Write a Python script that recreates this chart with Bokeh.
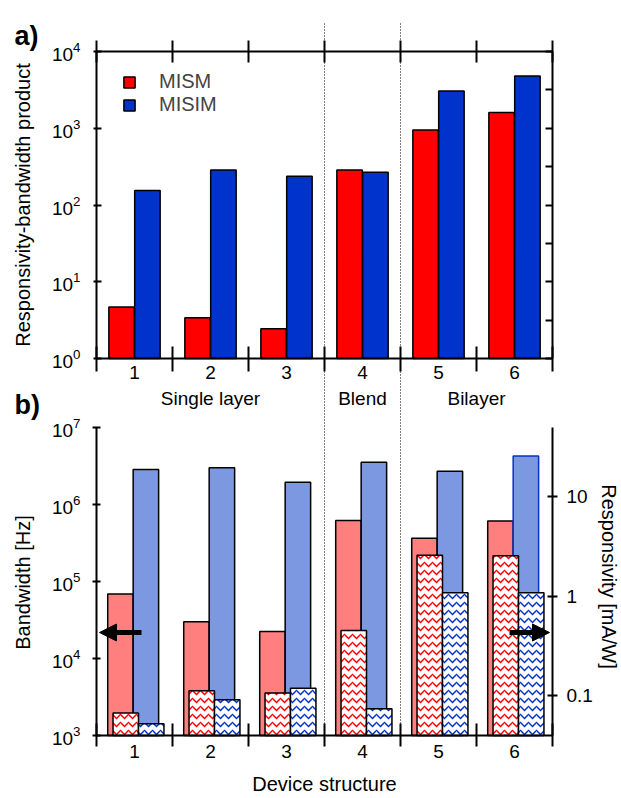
import math
from bokeh.plotting import figure
from bokeh.models import (Range1d, LogScale, LogAxis, LinearAxis, FixedTicker, Label,
                          Legend, LegendItem, Arrow, NormalHead, CustomJSTickFormatter,
                          ColumnDataSource)
from bokeh.embed import file_html
from bokeh.resources import INLINE

# ---------------- data ----------------
categories = ["1", "2", "3", "4", "5", "6"]
groups = ["Single layer", "Blend", "Bilayer"]
group_pos = [2.0, 4.0, 5.5]
group_dividers = [3.5, 4.5]

# a) responsivity-bandwidth product
rbw_mism = [4.7, 3.4, 2.45, 285, 950, 1600]
rbw_misim = [155, 285, 237, 268, 3050, 4800]
# b) bandwidth [Hz]
bw_mism = [6.9e4, 3.0e4, 2.25e4, 6.2e5, 3.65e5, 6.1e5]
bw_misim = [2.85e6, 3.0e6, 1.95e6, 3.55e6, 2.7e6, 4.25e6]
# b) responsivity [mA/W]
resp_mism = [0.066, 0.111, 0.105, 0.45, 2.57, 2.54]
resp_misim = [0.0515, 0.090, 0.1175, 0.073, 1.08, 1.08]

rbw_ticks = [1, 10, 100, 1000, 10000]
bw_ticks = [1e3, 1e4, 1e5, 1e6, 1e7]
resp_ticks = [0.1, 1, 10]

# ---------------- layout (page pixels -> data) ----------------
FONT = "Liberation Sans"
W, H = 619, 796
PX0, PY0 = 1, 1                      # figure origin on the page
XL, UNIT = 97, 76.0                  # page x of the left plot edge, px per category

def xd(px):
    return 0.5 + (px - XL) / UNIT

def logmap(v_ref, y_ref, ppd):
    return lambda py: 10 ** (math.log10(v_ref) + (y_ref - py) / ppd)

rbw_y = logmap(1, 359, (359 - 52) / 4.0)
bw_y = logmap(1e3, 736, (736 - 428) / 4.0)
resp_y = logmap(0.1, 695.7, (695.7 - 497.3) / 2.0)

TOP_PAGE, BOT_PAGE = PY0, PY0 + H
p = figure(width=W, height=H, x_range=Range1d(xd(PX0), xd(PX0 + W)),
           y_range=Range1d(bw_y(BOT_PAGE), bw_y(TOP_PAGE)),
           y_axis_type="log", x_axis_location=None, y_axis_location=None,
           output_backend="svg", toolbar_location=None,
           min_border_left=0, min_border_right=0, min_border_top=0, min_border_bottom=0)
p.extra_y_ranges = {"rbw": Range1d(rbw_y(BOT_PAGE), rbw_y(TOP_PAGE)),
                    "resp": Range1d(resp_y(BOT_PAGE), resp_y(TOP_PAGE))}
p.extra_y_scales = {"rbw": LogScale(), "resp": LogScale()}
p.xgrid.visible = False
p.ygrid.visible = False
p.outline_line_color = None
p.background_fill_color = "white"
p.border_fill_color = "white"

n = len(categories)
centers = [i + 1.0 for i in range(n)]
edges = [i + 0.5 for i in range(n + 1)]
BW = 0.335
resp_base = resp_y(736)
resp_axis_top = resp_y(428)

def style_axis(ax, size="19px"):
    ax.axis_line_width = 2
    ax.axis_line_color = "black"
    ax.major_tick_line_width = 2
    ax.minor_tick_line_color = None
    ax.major_label_text_font = FONT
    ax.major_label_text_font_size = size
    ax.major_label_text_color = "black"

def tick_axis(y_range_name, loc, side, t_in, t_out):
    """x axis line with crossing ticks at the category edges, no labels"""
    ax = LinearAxis(y_range_name=y_range_name, fixed_location=loc,
                    ticker=FixedTicker(ticks=edges), bounds=(edges[0], edges[-1]))
    style_axis(ax)
    ax.major_tick_in = t_in
    ax.major_tick_out = t_out
    ax.major_label_text_alpha = 0
    p.add_layout(ax, side)

def label_axis(y_range_name, loc, ticks, labels, standoff):
    """tick labels only (no line, no ticks)"""
    ax = LinearAxis(y_range_name=y_range_name, fixed_location=loc,
                    ticker=FixedTicker(ticks=ticks))
    style_axis(ax)
    ax.major_label_overrides = {t: lab for t, lab in zip(ticks, labels)}
    ax.axis_line_color = None
    ax.major_tick_line_color = None
    ax.major_tick_in = 0
    ax.major_tick_out = 0
    ax.major_label_standoff = standoff
    p.add_layout(ax, "below")

# ---------------- panel a) bars ----------------
src_a = ColumnDataSource(dict(xr=[c - 0.17 for c in centers], xb=[c + 0.17 for c in centers],
                              red=rbw_mism, blue=rbw_misim))
r_red = p.vbar(x="xr", top="red", bottom=rbw_ticks[0], width=BW, source=src_a,
               y_range_name="rbw", fill_color="#FF0000", line_color="black", line_width=1.5)
r_blue = p.vbar(x="xb", top="blue", bottom=rbw_ticks[0], width=BW, source=src_a,
                y_range_name="rbw", fill_color="#0033CC", line_color="black", line_width=1.5)

# ---------------- panel b) bars ----------------
src_b = ColumnDataSource(dict(
    xr=[c - 0.185 for c in centers], xb=[c + 0.15 for c in centers],
    xhr=[c - 0.115 for c in centers], xhb=[c + 0.22 for c in centers],
    bwr=bw_mism, bwb=bw_misim, rr=resp_mism, rb=resp_misim,
    lc=["black"] * (n - 1) + ["#0033CC"]))
p.vbar(x="xr", top="bwr", bottom=bw_ticks[0], width=BW, source=src_b,
       fill_color="#FF7F7F", line_color="black", line_width=1.5)
p.vbar(x="xb", top="bwb", bottom=bw_ticks[0], width=BW, source=src_b,
       fill_color="#7B98E0", line_color="lc", line_width=1.5)
p.vbar(x="xhr", top="rr", bottom=resp_base, width=BW, source=src_b, y_range_name="resp",
       fill_color="white", hatch_pattern="horizontal_wave", hatch_color="#FF0000",
       hatch_scale=8, hatch_weight=1.5, line_color="black", line_width=1.5)
p.vbar(x="xhb", top="rb", bottom=resp_base, width=BW, source=src_b, y_range_name="resp",
       fill_color="white", hatch_pattern="horizontal_wave", hatch_color="#0033CC",
       hatch_scale=8, hatch_weight=1.5, line_color="black", line_width=1.5)

# dotted group dividers (from the top of panel a) down to the axis of panel b))
p.segment(x0=group_dividers, x1=group_dividers,
          y0=[bw_ticks[0]] * len(group_dividers), y1=[bw_y(24)] * len(group_dividers),
          line_color="black", line_width=1, line_dash="1 2")

# ---------------- axes (all at fixed locations) ----------------
# panel b) bottom x axis
tick_axis("default", bw_ticks[0], "below", 12, 11)
label_axis("default", bw_ticks[0], centers, categories, 9)

# panel b) left y axis
yb_ax = LogAxis(fixed_location=edges[0], ticker=FixedTicker(ticks=bw_ticks),
                bounds=(bw_ticks[0], bw_ticks[-1]))
style_axis(yb_ax)
yb_ax.major_tick_in = 4
yb_ax.major_tick_out = 4
yb_ax.major_label_standoff = 12
p.add_layout(yb_ax, "left")

# panel b) right y axis (responsivity)
resp_ax = LogAxis(y_range_name="resp", fixed_location=edges[-1],
                  ticker=FixedTicker(ticks=resp_ticks),
                  formatter=CustomJSTickFormatter(code="return String(tick)"),
                  bounds=(resp_base, resp_axis_top))
style_axis(resp_ax)
resp_ax.major_tick_in = 5
resp_ax.major_tick_out = 5
resp_ax.major_label_standoff = 9
p.add_layout(resp_ax, "right")

# panel a) left axis
ya_ax = LogAxis(y_range_name="rbw", fixed_location=edges[0], ticker=FixedTicker(ticks=rbw_ticks),
                bounds=(rbw_ticks[0], rbw_ticks[-1]))
style_axis(ya_ax)
ya_ax.major_tick_in = 5
ya_ax.major_tick_out = 3
ya_ax.major_label_standoff = 13
p.add_layout(ya_ax, "left")

# panel a) right axis (ticks only)
ya_r = LogAxis(y_range_name="rbw", fixed_location=edges[-1],
               ticker=FixedTicker(ticks=[10 ** (k / 2) for k in range(9)]),
               bounds=(rbw_ticks[0], rbw_ticks[-1]))
style_axis(ya_r)
ya_r.major_tick_in = 7
ya_r.major_tick_out = 0
ya_r.major_label_text_alpha = 0
p.add_layout(ya_r, "right")

# panel a) bottom axis, labels and group labels, top axis
tick_axis("rbw", rbw_ticks[0], "below", 12, 13)
label_axis("rbw", rbw_ticks[0], centers, categories, 7)
label_axis("rbw", rbw_ticks[0], group_pos, groups, 29)
tick_axis("rbw", rbw_ticks[-1], "above", 11, 11)

# ---------------- legend ----------------
legend = Legend(items=[LegendItem(label="MISM", renderers=[r_red]),
                       LegendItem(label="MISIM", renderers=[r_blue])],
                location=(123 - PX0, BOT_PAGE - 117), padding=0, margin=0, spacing=0,
                glyph_width=14, glyph_height=14, label_standoff=23,
                label_text_font=FONT, label_text_font_size="20px", label_height=20,
                border_line_color=None, background_fill_alpha=0)
p.add_layout(legend)

# ---------------- arrows ----------------
ARROW_Y = bw_y(633)
p.add_layout(Arrow(end=NormalHead(size=17, fill_color="black", line_color="black"),
                   x_start=xd(142), y_start=ARROW_Y, x_end=xd(100), y_end=ARROW_Y,
                   line_width=5, line_color="black"))
p.add_layout(Arrow(end=NormalHead(size=17, fill_color="black", line_color="black"),
                   x_start=xd(510), y_start=ARROW_Y, x_end=xd(550), y_end=ARROW_Y,
                   line_width=5, line_color="black"))

# ---------------- texts ----------------
def label(text, px, py, size="20px", **kw):
    p.add_layout(Label(x=xd(px), y=bw_y(py), text=text, text_font=FONT,
                       text_font_size=size, text_color="black", **kw))

label("a)", 15, 36, size="27px", text_font_style="bold", text_baseline="alphabetic")
label("b)", 15, 405, size="27px", text_font_style="bold", text_baseline="alphabetic")
label("Responsivity-bandwidth product", 23, 205.5, angle=math.pi / 2,
      text_align="center", text_baseline="middle")
label("Bandwidth [Hz]", 23, 583, angle=math.pi / 2,
      text_align="center", text_baseline="middle")
label("Responsivity [mA/W]", 609, 577, angle=-math.pi / 2,
      text_align="center", text_baseline="middle")
label("Device structure", 325, 784, text_align="center", text_baseline="middle")

open("out.html", "w").write(file_html(p, INLINE))
